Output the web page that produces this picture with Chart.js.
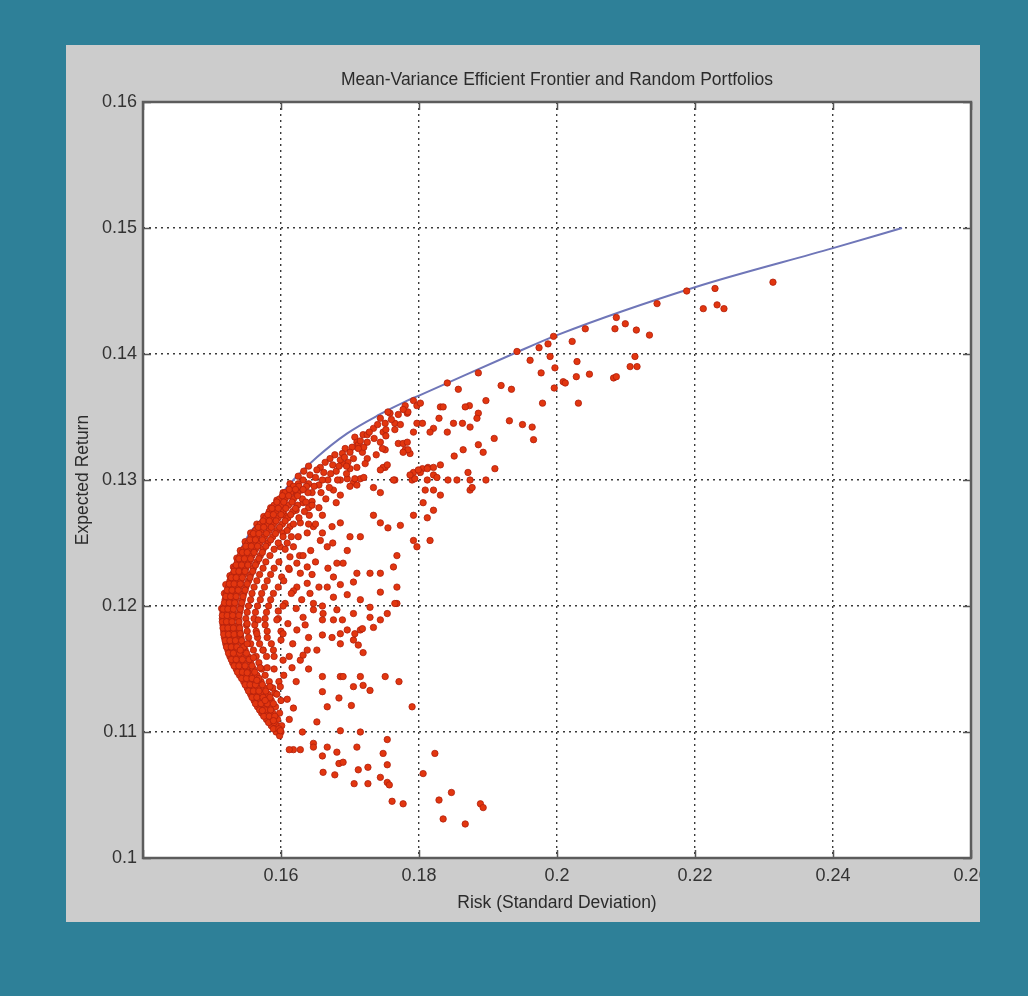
<!DOCTYPE html>
<html>
<head>
<meta charset="utf-8">
<title>Mean-Variance Efficient Frontier and Random Portfolios</title>
<script src="https://cdn.jsdelivr.net/npm/chart.js@4.4.1/dist/chart.umd.min.js"></script>
<style>
body { margin: 0; background: #2e8098; width: 1028px; height: 996px; overflow: hidden; }
#panel { position: absolute; left: 66px; top: 45px; width: 914px; height: 877px; background: #cccccc; overflow: hidden; }
#wrap { position: absolute; left: 0; top: 0; width: 960px; height: 877px; }
</style>
</head>
<body>
<div id="panel"><div id="wrap"><canvas id="mycanvas" width="960" height="877"></canvas></div></div>
<script>
// efficient frontier (risk, return)
var frontierRisk   = [0.1513, 0.1516, 0.1522, 0.1531, 0.1541, 0.1555, 0.1577, 0.1594, 0.1613, 0.1652, 0.1696, 0.1743, 0.1783, 0.1800, 0.1936, 0.2000, 0.2200, 0.2400, 0.2500];
var frontierReturn = [0.1192, 0.1203, 0.1217, 0.1231, 0.1244, 0.1258, 0.1272, 0.1284, 0.1297, 0.1318, 0.1337, 0.1352, 0.1363, 0.1367, 0.1400, 0.1415, 0.1453, 0.1484, 0.1500];

var xTickLabels = ['', '0.16', '0.18', '0.2', '0.22', '0.24', '0.26'];
var yTickLabels = ['0.1', '0.11', '0.12', '0.13', '0.14', '0.15', '0.16'];

// random portfolios, [risk, return]
var upperRight = [
  [0.2229,0.1452],[0.2212,0.1436],[0.2232,0.1439],[0.2242,0.1436],[0.2313,0.1457],[0.2188,0.1450],
  [0.2145,0.1440],[0.2086,0.1429],[0.2084,0.1420],[0.2099,0.1424],[0.2115,0.1419],[0.2134,0.1415],
  [0.2041,0.1420],[0.2022,0.1410],[0.2029,0.1394],[0.2047,0.1384],[0.2028,0.1382],[0.2031,0.1361],
  [0.2082,0.1381],[0.2086,0.1382],[0.2113,0.1398],[0.2106,0.1390],[0.2116,0.1390],[0.1995,0.1414],
  [0.1987,0.1408],[0.1990,0.1398],[0.1997,0.1389],[0.1996,0.1373],[0.2009,0.1378],[0.2012,0.1377],
  [0.1974,0.1405],[0.1961,0.1395],[0.1942,0.1402],[0.1977,0.1385],[0.1979,0.1361],[0.1964,0.1342],
  [0.1966,0.1332],[0.1950,0.1344],[0.1931,0.1347],[0.1919,0.1375],[0.1934,0.1372],[0.1886,0.1385],
  [0.1897,0.1363],[0.1909,0.1333],[0.1910,0.1309],[0.1897,0.1300]
];

var middle = [
  [0.1857,0.1372],[0.1841,0.1377],[0.1873,0.1359],[0.1867,0.1358],[0.1886,0.1353],[0.1884,0.1349],
  [0.1850,0.1345],[0.1863,0.1345],[0.1874,0.1342],[0.1841,0.1338],[0.1831,0.1358],[0.1835,0.1358],
  [0.1821,0.1341],[0.1816,0.1338],[0.1829,0.1349],[0.1886,0.1328],[0.1893,0.1322],[0.1864,0.1324],
  [0.1851,0.1319],[0.1831,0.1312],[0.1871,0.1306],[0.1874,0.1300],[0.1855,0.1300],[0.1842,0.1300],
  [0.1792,0.1363],[0.1797,0.1359],[0.1802,0.1361],[0.1783,0.1353],[0.1780,0.1359],[0.1797,0.1345],
  [0.1805,0.1345],[0.1792,0.1338],[0.1765,0.1345],[0.1773,0.1344],[0.1751,0.1345],[0.1748,0.1338],
  [0.1758,0.1353],[0.1770,0.1329],[0.1777,0.1329],[0.1780,0.1324],[0.1787,0.1321],[0.1751,0.1324],
  [0.1751,0.1310],[0.1805,0.1309],[0.1792,0.1306],[0.1813,0.1310],[0.1821,0.1310],[0.1765,0.1300],
  [0.1790,0.1300],[0.1794,0.1301],[0.1809,0.1292],[0.1821,0.1292],[0.1831,0.1288],[0.1874,0.1292],
  [0.1877,0.1294],
  [0.1676,0.1292],[0.1686,0.1288],[0.1705,0.1298],[0.1715,0.1301],[0.1734,0.1294],[0.1744,0.1290],
  [0.1763,0.1300],[0.1787,0.1304],[0.1802,0.1306],[0.1812,0.1300],[0.1821,0.1304],[0.1734,0.1272],
  [0.1744,0.1266],[0.1755,0.1262],[0.1773,0.1264],[0.1792,0.1272],[0.1812,0.1270],[0.1806,0.1282],
  [0.1821,0.1276],[0.1816,0.1252],[0.1792,0.1252],[0.1797,0.1247],[0.1768,0.1240],[0.1763,0.1231],
  [0.1744,0.1226],[0.1729,0.1226],[0.1715,0.1255],[0.1700,0.1255],[0.1696,0.1244],[0.1690,0.1234],
  [0.1681,0.1234],[0.1667,0.1247],[0.1657,0.1252],[0.1660,0.1258],[0.1674,0.1263],[0.1686,0.1266],
  [0.1710,0.1226],[0.1705,0.1219],[0.1686,0.1217],[0.1676,0.1223],[0.1667,0.1215],[0.1676,0.1207],
  [0.1696,0.1209],[0.1715,0.1205],[0.1729,0.1199],[0.1744,0.1211],[0.1768,0.1215],[0.1768,0.1202],
  [0.1754,0.1194],[0.1744,0.1189],[0.1734,0.1183],[0.1715,0.1181],[0.1705,0.1173],[0.1686,0.1178],
  [0.1676,0.1189],[0.1661,0.1194],[0.1647,0.1202],[0.1642,0.1210],[0.1638,0.1218],[0.1623,0.1215],
  [0.1628,0.1226],[0.1638,0.1231],[0.1623,0.1234],[0.1613,0.1239],[0.1618,0.1247],[0.1609,0.1250],
  [0.1599,0.1247],[0.1603,0.1258],[0.1613,0.1263],[0.1628,0.1266],[0.1638,0.1258],[0.1647,0.1263],
  [0.1605,0.1272],[0.1622,0.1276],[0.1641,0.1272],[0.1615,0.1255],[0.1643,0.1244],[0.1612,0.1229],
  [0.1627,0.1240],[0.1601,0.1223],[0.1618,0.1212],[0.1645,0.1225],[0.1630,0.1205],[0.1606,0.1202],
  [0.1596,0.1196],[0.1622,0.1198],[0.1610,0.1186],[0.1635,0.1185],[0.1600,0.1173],[0.1617,0.1170],
  [0.1590,0.1160],[0.1640,0.1175],[0.1604,0.1145],[0.1622,0.1140],[0.1591,0.1131],[0.1612,0.1110],
  [0.1640,0.1150],[0.1650,0.1235],[0.1655,0.1215],[0.1660,0.1200],[0.1668,0.1230],[0.1675,0.1250],
  [0.1655,0.1278],[0.1665,0.1285],[0.1645,0.1283],[0.1650,0.1265]
];

var nearFrontier = [
  [0.1784,0.1354],[0.1752,0.1340],[0.1755,0.1354],[0.1744,0.1349],[0.1734,0.1341],[0.1719,0.1336],
  [0.1707,0.1334],[0.1710,0.1330],[0.1725,0.1336],[0.1712,0.1328],[0.1703,0.1326],[0.1693,0.1325],
  [0.1689,0.1321],[0.1678,0.1320],[0.1671,0.1317],[0.1664,0.1314],[0.1657,0.1310],[0.1652,0.1308],
  [0.1642,0.1304],[0.1632,0.1300],[0.1625,0.1297],[0.1744,0.1330],[0.1747,0.1325],[0.1783,0.1330],
  [0.1784,0.1324],[0.1777,0.1322],[0.1718,0.1322],[0.1725,0.1317],[0.1722,0.1313],[0.1697,0.1314],
  [0.1689,0.1313],[0.1700,0.1309],[0.1748,0.1310],[0.1744,0.1308],[0.1754,0.1312],[0.1799,0.1308],
  [0.1812,0.1309],[0.1826,0.1302],[0.1696,0.1301],[0.1686,0.1300],[0.1707,0.1301],[0.1710,0.1296],
  [0.1740,0.1344],[0.1728,0.1338],[0.1715,0.1331],[0.1700,0.1322],[0.1686,0.1316],[0.1675,0.1312],
  [0.1662,0.1306],[0.1650,0.1302],[0.1640,0.1297],[0.1630,0.1292],[0.1620,0.1290],[0.1680,0.1307],
  [0.1668,0.1300],[0.1655,0.1296],[0.1645,0.1290],[0.1695,0.1311],[0.1705,0.1317],[0.1720,0.1326],
  [0.1735,0.1333],[0.1760,0.1348],[0.1770,0.1352],[0.1777,0.1356],
  [0.1648,0.1295],[0.1660,0.1300],[0.1672,0.1305],[0.1684,0.1311],[0.1692,0.1318],[0.1712,0.1325],
  [0.1725,0.1330],[0.1658,0.1290],[0.1670,0.1294],[0.1682,0.1300],[0.1695,0.1305],[0.1710,0.1310],
  [0.1632,0.1282],[0.1640,0.1278],[0.1660,0.1272],[0.1680,0.1282],[0.1700,0.1295],[0.1720,0.1302],
  [0.1738,0.1320],[0.1752,0.1335],[0.1765,0.1340]
];

// dots sitting right on the lower part of the frontier, hiding the line there
var onFrontier = [
  [0.1514,0.1198],[0.1518,0.1210],[0.1526,0.1224],[0.1536,0.1238],[0.1548,0.1251],[0.1565,0.1265],
  [0.1585,0.1278],[0.1603,0.1290],[0.1625,0.1303],[0.1640,0.1311],[0.1520,0.1217],[0.1531,0.1231],
  [0.1541,0.1244],[0.1556,0.1258],[0.1575,0.1271],[0.1594,0.1284],[0.1613,0.1297],[0.1633,0.1307]
];

var core = [
  [0.1618,0.1295],[0.1626,0.1295],[0.1637,0.1295],
  [0.1606,0.1290],[0.1614,0.1290],[0.1624,0.1290],[0.1639,0.1290],
  [0.1598,0.1285],[0.1606,0.1285],[0.1618,0.1285],[0.1631,0.1285],
  [0.1590,0.1280],[0.1600,0.1280],[0.1611,0.1280],[0.1624,0.1280],[0.1645,0.1280],
  [0.1583,0.1275],[0.1592,0.1275],[0.1603,0.1275],[0.1617,0.1275],[0.1634,0.1275],
  [0.1578,0.1270],[0.1585,0.1270],[0.1596,0.1270],[0.1610,0.1270],[0.1626,0.1270],
  [0.1570,0.1265],[0.1580,0.1265],[0.1589,0.1265],[0.1602,0.1265],[0.1618,0.1265],[0.1640,0.1265],
  [0.1563,0.1260],[0.1571,0.1260],[0.1583,0.1260],[0.1594,0.1260],[0.1609,0.1260],
  [0.1557,0.1255],[0.1565,0.1255],[0.1576,0.1255],[0.1588,0.1255],[0.1603,0.1255],[0.1625,0.1255],
  [0.1552,0.1250],[0.1560,0.1250],[0.1569,0.1250],[0.1581,0.1250],[0.1596,0.1250],
  [0.1546,0.1245],[0.1553,0.1245],[0.1563,0.1245],[0.1574,0.1245],[0.1590,0.1245],[0.1606,0.1245],
  [0.1541,0.1240],[0.1549,0.1240],[0.1558,0.1240],[0.1570,0.1240],[0.1584,0.1240],[0.1632,0.1240],
  [0.1537,0.1235],[0.1545,0.1235],[0.1554,0.1235],[0.1565,0.1235],[0.1578,0.1235],[0.1597,0.1235],
  [0.1533,0.1230],[0.1540,0.1230],[0.1549,0.1230],[0.1560,0.1230],[0.1574,0.1230],[0.1590,0.1230],[0.1611,0.1230],
  [0.1530,0.1225],[0.1537,0.1225],[0.1546,0.1225],[0.1556,0.1225],[0.1569,0.1225],[0.1585,0.1225],
  [0.1526,0.1220],[0.1533,0.1220],[0.1542,0.1220],[0.1553,0.1220],[0.1565,0.1220],[0.1580,0.1220],[0.1604,0.1220],
  [0.1524,0.1215],[0.1530,0.1215],[0.1539,0.1215],[0.1549,0.1215],[0.1561,0.1215],[0.1576,0.1215],[0.1596,0.1215],
  [0.1521,0.1210],[0.1528,0.1210],[0.1536,0.1210],[0.1546,0.1210],[0.1558,0.1210],[0.1572,0.1210],[0.1589,0.1210],[0.1615,0.1210],
  [0.1519,0.1205],[0.1526,0.1205],[0.1534,0.1205],[0.1544,0.1205],[0.1556,0.1205],[0.1570,0.1205],[0.1585,0.1205],
  [0.1517,0.1200],[0.1524,0.1200],[0.1532,0.1200],[0.1542,0.1200],[0.1553,0.1200],[0.1566,0.1200],[0.1582,0.1200],[0.1603,0.1200],
  [0.1516,0.1195],[0.1522,0.1195],[0.1530,0.1195],[0.1540,0.1195],[0.1551,0.1195],[0.1563,0.1195],[0.1579,0.1195],
  [0.1515,0.1190],[0.1521,0.1190],[0.1529,0.1190],[0.1538,0.1190],[0.1549,0.1190],[0.1561,0.1190],[0.1577,0.1190],[0.1596,0.1190],
  [0.1516,0.1185],[0.1522,0.1185],[0.1530,0.1185],[0.1539,0.1185],[0.1550,0.1185],[0.1562,0.1185],[0.1577,0.1185],
  [0.1517,0.1180],[0.1523,0.1180],[0.1531,0.1180],[0.1540,0.1180],[0.1551,0.1180],[0.1564,0.1180],[0.1580,0.1180],[0.1600,0.1180],
  [0.1518,0.1175],[0.1525,0.1175],[0.1533,0.1175],[0.1542,0.1175],[0.1553,0.1175],[0.1566,0.1175],
  [0.1520,0.1170],[0.1527,0.1170],[0.1535,0.1170],[0.1545,0.1170],[0.1556,0.1170],[0.1569,0.1170],[0.1586,0.1170],
  [0.1523,0.1165],[0.1530,0.1165],[0.1538,0.1165],[0.1548,0.1165],[0.1560,0.1165],[0.1574,0.1165],
  [0.1526,0.1160],[0.1533,0.1160],[0.1542,0.1160],[0.1552,0.1160],[0.1564,0.1160],[0.1579,0.1160],[0.1612,0.1160],
  [0.1530,0.1155],[0.1537,0.1155],[0.1546,0.1155],[0.1556,0.1155],[0.1568,0.1155],
  [0.1535,0.1150],[0.1542,0.1150],[0.1550,0.1150],[0.1560,0.1150],[0.1572,0.1150],[0.1590,0.1150],
  [0.1540,0.1145],[0.1547,0.1145],[0.1555,0.1145],[0.1565,0.1145],[0.1577,0.1145],
  [0.1546,0.1140],[0.1553,0.1140],[0.1561,0.1140],[0.1571,0.1140],[0.1583,0.1140],[0.1597,0.1140],
  [0.1551,0.1135],[0.1558,0.1135],[0.1566,0.1135],[0.1576,0.1135],[0.1588,0.1135],
  [0.1556,0.1130],[0.1563,0.1130],[0.1571,0.1130],[0.1581,0.1130],[0.1594,0.1130],
  [0.1561,0.1125],[0.1568,0.1125],[0.1577,0.1125],[0.1586,0.1125],[0.1600,0.1125],
  [0.1566,0.1120],[0.1574,0.1120],[0.1583,0.1120],[0.1592,0.1120],
  [0.1572,0.1115],[0.1580,0.1115],[0.1588,0.1115],[0.1598,0.1115],
  [0.1579,0.1110],[0.1587,0.1110],[0.1595,0.1110],
  [0.1586,0.1105],[0.1594,0.1105],[0.1601,0.1105],
  [0.1593,0.1100],[0.1600,0.1100],[0.1598,0.1097]
];

// extra dots between the rows of the dense edge band
var coreBetween = [
  [0.1612,0.12925],[0.1621,0.12925],[0.1632,0.12925],
  [0.1602,0.12875],[0.1611,0.12875],[0.1624,0.12875],
  [0.1594,0.12825],[0.1604,0.12825],[0.1616,0.12825],[0.1636,0.12825],
  [0.1587,0.12775],[0.1596,0.12775],[0.1607,0.12775],[0.1621,0.12775],
  [0.1581,0.12725],[0.1589,0.12725],[0.1600,0.12725],[0.1614,0.12725],
  [0.1574,0.12675],[0.1583,0.12675],[0.1593,0.12675],[0.1606,0.12675],
  [0.1567,0.12625],[0.1575,0.12625],[0.1586,0.12625],[0.1598,0.12625],
  [0.1560,0.12575],[0.1568,0.12575],[0.1579,0.12575],[0.1592,0.12575],
  [0.1555,0.12525],[0.1563,0.12525],[0.1573,0.12525],[0.1585,0.12525],
  [0.1549,0.12475],[0.1557,0.12475],[0.1566,0.12475],[0.1578,0.12475],
  [0.1544,0.12425],[0.1551,0.12425],[0.1561,0.12425],[0.1573,0.12425],
  [0.1539,0.12375],[0.1547,0.12375],[0.1556,0.12375],[0.1568,0.12375],
  [0.1535,0.12325],[0.1543,0.12325],[0.1552,0.12325],[0.1563,0.12325],
  [0.1532,0.12275],[0.1539,0.12275],[0.1548,0.12275],[0.1559,0.12275],
  [0.1528,0.12225],[0.1535,0.12225],[0.1544,0.12225],[0.1555,0.12225],
  [0.1525,0.12175],[0.1532,0.12175],[0.1541,0.12175],[0.1551,0.12175],
  [0.1522,0.12125],[0.1529,0.12125],[0.1538,0.12125],[0.1548,0.12125],
  [0.1520,0.12075],[0.1527,0.12075],[0.1535,0.12075],[0.1545,0.12075],
  [0.1518,0.12025],[0.1525,0.12025],[0.1533,0.12025],[0.1543,0.12025],
  [0.1516,0.11975],[0.1523,0.11975],[0.1531,0.11975],[0.1541,0.11975],
  [0.1515,0.11925],[0.1522,0.11925],[0.1530,0.11925],[0.1539,0.11925],
  [0.1515,0.11875],[0.1521,0.11875],[0.1529,0.11875],[0.1539,0.11875],
  [0.1516,0.11825],[0.1523,0.11825],[0.1531,0.11825],[0.1540,0.11825],
  [0.1517,0.11775],[0.1524,0.11775],[0.1532,0.11775],[0.1541,0.11775],
  [0.1519,0.11725],[0.1526,0.11725],[0.1534,0.11725],[0.1543,0.11725],
  [0.1521,0.11675],[0.1528,0.11675],[0.1536,0.11675],[0.1546,0.11675],
  [0.1524,0.11625],[0.1531,0.11625],[0.1540,0.11625],[0.1550,0.11625],
  [0.1528,0.11575],[0.1535,0.11575],[0.1544,0.11575],[0.1554,0.11575],
  [0.1532,0.11525],[0.1539,0.11525],[0.1548,0.11525],[0.1558,0.11525],
  [0.1537,0.11475],[0.1544,0.11475],[0.1552,0.11475],[0.1562,0.11475],
  [0.1543,0.11425],[0.1550,0.11425],[0.1558,0.11425],[0.1568,0.11425],
  [0.1548,0.11375],[0.1555,0.11375],[0.1563,0.11375],[0.1573,0.11375],
  [0.1553,0.11325],[0.1560,0.11325],[0.1568,0.11325],[0.1578,0.11325],
  [0.1558,0.11275],[0.1565,0.11275],[0.1574,0.11275],[0.1584,0.11275],
  [0.1563,0.11225],[0.1571,0.11225],[0.1580,0.11225],[0.1589,0.11225],
  [0.1569,0.11175],[0.1577,0.11175],[0.1585,0.11175],
  [0.1575,0.11125],[0.1583,0.11125],[0.1591,0.11125],
  [0.1582,0.11075],[0.1590,0.11075],
  [0.1589,0.11025],[0.1597,0.11025]
];

var lowerTail = [
  [0.1765,0.1202],[0.1751,0.1144],[0.1771,0.1140],[0.1790,0.1120],[0.1823,0.1083],[0.1806,0.1067],
  [0.1829,0.1046],[0.1847,0.1052],[0.1835,0.1031],[0.1867,0.1027],[0.1889,0.1043],[0.1893,0.1040],
  [0.1754,0.1094],[0.1748,0.1083],[0.1754,0.1074],[0.1744,0.1064],[0.1754,0.1060],[0.1757,0.1058],
  [0.1761,0.1045],[0.1777,0.1043],[0.1726,0.1072],[0.1726,0.1059],[0.1706,0.1059],[0.1712,0.1070],
  [0.1710,0.1088],[0.1715,0.1100],[0.1686,0.1101],[0.1684,0.1075],[0.1690,0.1076],[0.1678,0.1066],
  [0.1681,0.1084],[0.1667,0.1088],[0.1661,0.1068],[0.1660,0.1081],[0.1647,0.1091],[0.1647,0.1088],
  [0.1631,0.1100],[0.1628,0.1086],[0.1618,0.1086],[0.1612,0.1086],[0.1652,0.1108],[0.1667,0.1120],
  [0.1684,0.1127],[0.1702,0.1121],[0.1660,0.1132],[0.1660,0.1144],[0.1686,0.1144],[0.1690,0.1144],
  [0.1705,0.1136],[0.1715,0.1144],[0.1719,0.1137],[0.1729,0.1133],[0.1618,0.1119],[0.1609,0.1126],
  [0.1599,0.1136],[0.1603,0.1157],[0.1616,0.1151],[0.1628,0.1157],[0.1632,0.1161],[0.1638,0.1165],
  [0.1652,0.1165],[0.1660,0.1177],[0.1674,0.1175],[0.1686,0.1170],[0.1696,0.1181],[0.1712,0.1169],
  [0.1719,0.1163],[0.1707,0.1178],[0.1718,0.1182],[0.1729,0.1191],[0.1705,0.1194],[0.1689,0.1189],
  [0.1681,0.1197],[0.1660,0.1189],[0.1647,0.1197],[0.1632,0.1191],[0.1623,0.1181],[0.1603,0.1178],
  [0.1594,0.1189],[0.1589,0.1165],[0.1580,0.1151],[0.1584,0.1136],[0.1577,0.1125],[0.1573,0.1117],
  [0.1589,0.1109],[0.1599,0.1101],[0.1570,0.1151],[0.1565,0.1141],[0.1551,0.1147],[0.1560,0.1159],
  [0.1574,0.1165],[0.1580,0.1175],[0.1565,0.1178],[0.1567,0.1189],[0.1551,0.1186],[0.1541,0.1178],
  [0.1541,0.1165],[0.1551,0.1170]
];

var groups = [upperRight, middle, nearFrontier, onFrontier, core, coreBetween, lowerTail];
var scatterPoints = [];
groups.forEach(function(g) {
  g.forEach(function(p) { scatterPoints.push({x: p[0], y: p[1]}); });
});
var frontierPoints = frontierRisk.map(function(r, i) { return {x: r, y: frontierReturn[i]}; });

var boxPlugin = {
  id: 'matlabBox',
  beforeDraw: function(chart) {
    var a = chart.chartArea, ctx = chart.ctx;
    ctx.save();
    ctx.fillStyle = '#ffffff';
    ctx.fillRect(a.left, a.top, a.right - a.left, a.bottom - a.top);
    ctx.restore();
  },
  afterDraw: function(chart) {
    var a = chart.chartArea, ctx = chart.ctx;
    var xs = chart.scales.x, ys = chart.scales.y;
    ctx.save();
    ctx.strokeStyle = '#555555';
    ctx.lineWidth = 1.5;
    ctx.beginPath();
    xs.ticks.forEach(function(t) {
      var px = Math.round(xs.getPixelForValue(t.value)) + 0.5;
      ctx.moveTo(px, a.top); ctx.lineTo(px, a.top + 8);
      ctx.moveTo(px, a.bottom); ctx.lineTo(px, a.bottom - 8);
    });
    ys.ticks.forEach(function(t) {
      var py = Math.round(ys.getPixelForValue(t.value)) + 0.5;
      ctx.moveTo(a.left, py); ctx.lineTo(a.left + 8, py);
      ctx.moveTo(a.right, py); ctx.lineTo(a.right - 8, py);
    });
    ctx.stroke();
    ctx.strokeStyle = '#5c5c5c';
    ctx.lineWidth = 2.5;
    ctx.strokeRect(a.left, a.top, a.right - a.left, a.bottom - a.top);
    ctx.restore();
  }
};

var ctx = document.getElementById('mycanvas');
var chart = new Chart(ctx, {
  data: {
    datasets: [
      {
        type: 'scatter',
        label: 'Random Portfolios',
        data: scatterPoints,
        backgroundColor: '#e2360f',
        borderColor: '#b0200c',
        borderWidth: 0.8,
        pointRadius: 3.2
      },
      {
        type: 'line',
        label: 'Efficient Frontier',
        data: frontierPoints,
        borderColor: '#6f76b8',
        borderWidth: 2,
        pointRadius: 0,
        fill: false,
        cubicInterpolationMode: 'monotone'
      }
    ]
  },
  options: {
    responsive: false,
    animation: false,
    layout: { padding: { left: 0, right: 55, top: 0, bottom: 0 } },
    plugins: {
      legend: { display: false },
      tooltip: { enabled: false },
      title: {
        display: true,
        fullSize: false,
        text: 'Mean-Variance Efficient Frontier and Random Portfolios',
        color: '#2b2b2b',
        font: { family: 'Liberation Sans, Arial, sans-serif', size: 17.5, weight: 'normal' },
        padding: { top: 25, bottom: 11 }
      }
    },
    scales: {
      x: {
        type: 'linear',
        min: 0.14,
        max: 0.26,
        afterFit: function(s) { s.height = 64; },
        ticks: {
          stepSize: 0.02,
          autoSkip: false,
          maxRotation: 0,
          padding: 7,
          color: '#333333',
          font: { family: 'Liberation Sans, Arial, sans-serif', size: 18 },
          callback: function(v, i) { return xTickLabels[i]; }
        },
        grid: { color: '#3a3a3a', lineWidth: 1.4, drawTicks: false },
        border: { display: false, dash: [2, 4] },
        title: {
          display: true,
          text: 'Risk (Standard Deviation)',
          color: '#2b2b2b',
          font: { family: 'Liberation Sans, Arial, sans-serif', size: 17.5 },
          padding: { top: 0, bottom: 8 }
        }
      },
      y: {
        type: 'linear',
        min: 0.1,
        max: 0.16,
        afterFit: function(s) { s.width = 77; },
        ticks: {
          stepSize: 0.01,
          autoSkip: false,
          padding: 6,
          color: '#333333',
          font: { family: 'Liberation Sans, Arial, sans-serif', size: 18 },
          callback: function(v, i) { return yTickLabels[i]; }
        },
        grid: { color: '#3a3a3a', lineWidth: 1.4, drawTicks: false },
        border: { display: false, dash: [2, 4] },
        title: {
          display: true,
          text: 'Expected Return',
          color: '#2b2b2b',
          font: { family: 'Liberation Sans, Arial, sans-serif', size: 17.5 },
          padding: { top: 7, bottom: 0 }
        }
      }
    }
  },
  plugins: [boxPlugin]
});
</script>
</body>
</html>
